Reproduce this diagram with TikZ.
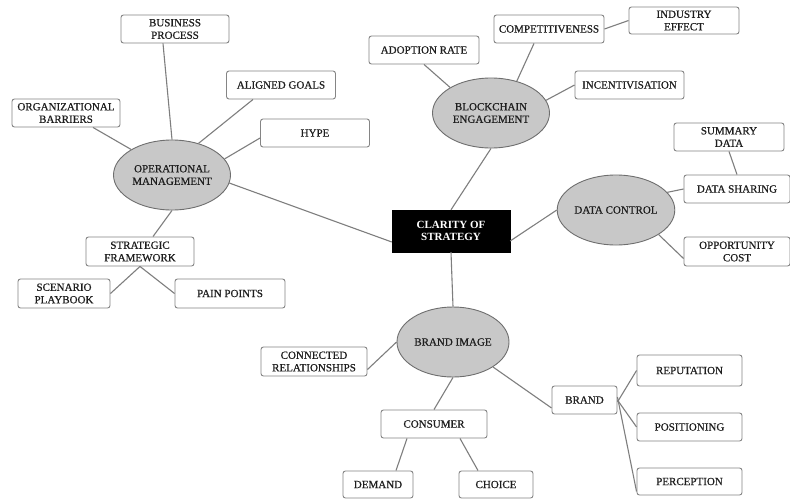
\documentclass[tikz,border=0pt]{standalone}
\usepackage{fontspec}
\setmainfont{Liberation Serif}
\newfontfamily\dfont[FakeBold=0.6]{Liberation Serif}
\usetikzlibrary{shapes.geometric}
\definecolor{txt}{HTML}{1E1E1E}
\definecolor{boxline}{HTML}{858585}
\definecolor{ellline}{HTML}{6E6E6E}
\definecolor{ellfill}{HTML}{C8C8C8}
\definecolor{conncol}{HTML}{7E7E7E}
\tikzset{
  box/.style={draw=boxline, line width=0.9pt, rounded corners=2.5pt, fill=white,
    align=center, inner sep=0pt, minimum height=28pt, text=txt,
    font=\dfont\fontsize{11}{12.5}\selectfont},
  ell/.style={ellipse, draw=ellline, line width=0.9pt, fill=ellfill, align=center,
    inner sep=0pt, minimum width=117pt, minimum height=70pt, text=txt,
    font=\dfont\fontsize{11}{12.5}\selectfont},
  hub/.style={draw=black, fill=black, text=white, align=center, inner sep=0pt,
    minimum width=118pt, minimum height=42pt,
    font=\fontsize{11}{12.5}\selectfont\bfseries},
  conn/.style={draw=conncol, line width=1.1pt}
}
\begin{document}
\begin{tikzpicture}[x=1pt,y=-1pt]
\useasboundingbox[fill=white] (0,0) rectangle (790,501);

% central hub
\node[hub] (cs) at (451,231) {CLARITY OF\\STRATEGY};

% ellipses
\node[ell] (om) at (172,175) {OPERATIONAL\\MANAGEMENT};
\node[ell] (be) at (491,113) {BLOCKCHAIN\\ENGAGEMENT};
\node[ell] (dc) at (616,210) {DATA CONTROL};
\node[ell, minimum width=112pt] (bi) at (453,342) {BRAND IMAGE};

% operational management boxes
\node[box, minimum width=108pt] (bp) at (175,29) {BUSINESS\\PROCESS};
\node[box, minimum width=109pt] (ag) at (281,85) {ALIGNED GOALS};
\node[box, minimum width=108pt] (ob) at (66,113) {ORGANIZATIONAL\\BARRIERS};
\node[box, minimum width=109pt] (hy) at (315,133) {HYPE};
\node[box, minimum width=108pt, minimum height=29pt] (sf) at (140,251.5) {STRATEGIC\\FRAMEWORK};
\node[box, minimum width=92pt, minimum height=29pt] (sp) at (64,293.5) {SCENARIO\\PLAYBOOK};
\node[box, minimum width=110pt, minimum height=29pt] (pp) at (230,293.5) {PAIN POINTS};

% blockchain engagement boxes
\node[box, minimum width=110pt] (ar) at (424,50) {ADOPTION RATE};
\node[box, minimum width=110pt] (cp) at (549,29) {COMPETITIVENESS};
\node[box, minimum width=110pt, minimum height=27pt] (ie) at (684,20.5) {INDUSTRY\\EFFECT};
\node[box, minimum width=109pt] (ic) at (629.5,85) {INCENTIVISATION};

% data control boxes
\node[box, minimum width=110pt] (sd) at (729,137) {SUMMARY\\DATA};
\node[box, minimum width=106pt] (ds) at (737,189) {DATA SHARING};
\node[box, minimum width=106pt, minimum height=29pt] (oc) at (737,251.5) {OPPORTUNITY\\COST};

% brand image boxes
\node[box, minimum width=106pt, minimum height=29pt] (cr) at (314,361.5) {CONNECTED\\RELATIONSHIPS};
\node[box, minimum width=65pt] (br) at (584.5,400) {BRAND};
\node[box, minimum width=105pt, minimum height=31pt] (rp) at (689.5,370.5) {REPUTATION};
\node[box, minimum width=105pt] (po) at (689.5,427) {POSITIONING};
\node[box, minimum width=105pt, minimum height=27pt] (pc) at (689.5,481.5) {PERCEPTION};
\node[box, minimum width=106pt] (cn) at (434,424) {CONSUMER};
\node[box, minimum width=70pt, minimum height=27pt] (dm) at (378,484.5) {DEMAND};
\node[box, minimum width=74pt, minimum height=27pt] (ch) at (496,484.5) {CHOICE};

% connectors
\draw[conn] ([xshift=-12pt]bp.south) -- (om.north);
\draw[conn] ([xshift=-28pt]ag.south) -- (om.50);
\draw[conn] ([yshift=-5pt]hy.west) -- (om.17);
\draw[conn] ([xshift=27pt]ob.south) -- (om.148);
\draw[conn] (om.-8) -- ([yshift=-11pt]cs.west);
\draw[conn] (om.south) -- ([xshift=13pt]sf.north);
\draw[conn] (sf.south) -- (sp.east);
\draw[conn] (sf.south) -- (pp.west);

\draw[conn] (ar.south) -- (be.148);
\draw[conn] ([xshift=-15pt]cp.south) -- (be.51);
\draw[conn] (cp.east) -- (ie.west);
\draw[conn] (be.13) -- (ic.west);
\draw[conn] (be.south) -- (cs.north);

\draw[conn] ([yshift=-10pt]cs.east) -- (dc.west);
\draw[conn] (dc.19) -- (ds.west);
\draw[conn] (dc.-30) -- ([yshift=-7pt]oc.west);
\draw[conn] (sd.south) -- (ds.north);

\draw[conn] (cs.south) -- (bi.north);
\draw[conn] (bi.west) -- ([yshift=-8pt]cr.east);
\draw[conn] (bi.-32) -- ([yshift=-8pt]br.west);
\draw[conn] (bi.south) -- (cn.north);
\draw[conn] ([xshift=-27pt]cn.south) -- ([xshift=18pt]dm.north);
\draw[conn] ([xshift=26pt]cn.south) -- ([xshift=-18pt]ch.north);
\draw[conn] ([yshift=-2pt]br.east) -- (rp.west);
\draw[conn] (br.east) -- (po.west);
\draw[conn] ([yshift=3pt]br.east) -- ([yshift=-10pt]pc.west);
\end{tikzpicture}
\end{document}
